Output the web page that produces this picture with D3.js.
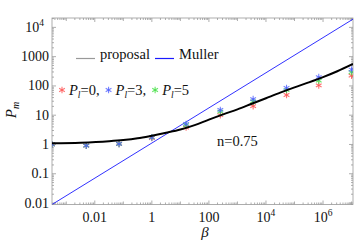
<!DOCTYPE html>
<html><head><meta charset="utf-8">
<script src="https://cdn.jsdelivr.net/npm/d3@7"></script>
<style>body{margin:0;background:#fff}svg{display:block}</style>
</head><body><svg id="c" width="356" height="245"></svg>
<script>
// data (log10 values)
const curveLogBeta = [-3.5,-2.5,-1.5,-1,-0.5,0,0.5,1,1.5,2,2.5,3,3.5,4,4.5,5,5.5,6,6.5,7.05];
const curveLogP    = [0.04,0.06,0.11,0.15,0.21,0.3,0.4,0.51,0.66,0.85,1.03,1.2,1.39,1.58,1.77,1.95,2.12,2.3,2.5,2.75];
const mullerLogBeta = [-3.5, 7.05];
const mullerLogP    = [-2.05, 4.28];
const starLogBeta = [-3.5,-2.3,-1.15,0.0,1.2,2.4,3.55,4.72,5.85,7.0];
const seriesP0 = [0.0,-0.04,0.02,0.22,0.58,1.0,1.31,1.69,2.02,2.35];
const seriesP5 = [0.0,-0.04,0.02,0.24,0.66,1.12,1.47,1.86,2.18,2.47];
const seriesP3 = [0.0,-0.04,0.02,0.24,0.70,1.18,1.55,1.93,2.30,2.56];
const xTickLabels = [{v:-2,t:"0.01"},{v:0,t:"1"},{v:2,t:"100"},{v:4,t:"10",s:"4"},{v:6,t:"10",s:"6"}];
const yTickLabels = [{v:-2,t:"0.01"},{v:-1,t:"0.1"},{v:0,t:"1"},{v:1,t:"10"},{v:2,t:"100"},{v:3,t:"1000"},{v:4,t:"10",s:"4"}];
const legendSeries = [{c:"#ff5050",t:"0,"},{c:"#5060ff",t:"3,"},{c:"#40e040",t:"5"}];

const FF="Liberation Serif";
const L=52,R=353,T=18,B=204.5;
const x=d3.scaleLog().domain([Math.pow(10,-3.5),Math.pow(10,7.05)]).range([L,R]);
const y=d3.scaleLog().domain([Math.pow(10,-2.05),Math.pow(10,4.32)]).range([B,T]);
const svg=d3.select("#c");
const P=v=>Math.pow(10,v);
const txt=(g)=>g.append("text").attr("font-family",FF).attr("fill","#111");

svg.append("defs").append("clipPath").attr("id","cl").append("rect").attr("x",L).attr("y",T).attr("width",R-L).attr("height",B-T);

// ticks
const tickG=svg.append("g").attr("stroke","#999").attr("stroke-width",0.8);
const xl=new Set(xTickLabels.map(d=>d.v));
for(let k=-4;k<=7;k++){for(let m=1;m<10;m++){const v=m*Math.pow(10,k);if(v<x.domain()[0]||v>x.domain()[1])continue;
 const len=m===1?(xl.has(k)?4:3):2;const px=x(v);
 tickG.append("line").attr("x1",px).attr("x2",px).attr("y1",B).attr("y2",B-len);
 tickG.append("line").attr("x1",px).attr("x2",px).attr("y1",T).attr("y2",T+len);}}
for(let k=-3;k<=4;k++){for(let m=1;m<10;m++){const v=m*Math.pow(10,k);if(v<y.domain()[0]||v>y.domain()[1])continue;
 const len=m===1?4:2;const py=y(v);
 tickG.append("line").attr("y1",py).attr("y2",py).attr("x1",L).attr("x2",L+len);
 tickG.append("line").attr("y1",py).attr("y2",py).attr("x1",R).attr("x2",R-len);}}
svg.append("rect").attr("x",L).attr("y",T).attr("width",R-L).attr("height",B-T).attr("fill","none").attr("stroke","#999").attr("stroke-width",0.8);

// tick labels
xTickLabels.forEach(d=>{const t=txt(svg).attr("x",x(P(d.v))).attr("y",B+17).attr("text-anchor","middle").attr("font-size",14).text(d.t);
 if(d.s)t.append("tspan").attr("dy",-6).attr("font-size",9.5).text(d.s);});
yTickLabels.forEach(d=>{const t=txt(svg).attr("x",49).attr("y",y(P(d.v))+4.5).attr("text-anchor","end").attr("font-size",14).text(d.t);
 if(d.s){t.attr("x",49-5);t.append("tspan").attr("dy",-6).attr("font-size",9.5).text(d.s);}});

// axis titles
txt(svg).attr("x",205).attr("y",237).attr("text-anchor","middle").attr("font-size",15).attr("font-style","italic").text("β");
const yt=txt(svg).attr("transform","translate(16,110) rotate(-90)").attr("text-anchor","middle").attr("font-size",15).attr("font-style","italic").text("P");
yt.append("tspan").attr("font-size",10).attr("dy",3).text("m");

const plot=svg.append("g").attr("clip-path","url(#cl)");
// Muller
plot.append("path").datum(mullerLogBeta.map((b,i)=>[b,mullerLogP[i]]))
 .attr("d",d3.line().x(d=>x(P(d[0]))).y(d=>y(P(d[1])))).attr("fill","none").attr("stroke","#1a1aff").attr("stroke-width",0.9);
// stars
function star(g,cx,cy,col){const r=3.3;[0,60,120].forEach(a=>{const rad=a*Math.PI/180;
 g.append("line").attr("x1",cx-r*Math.sin(rad)).attr("y1",cy-r*Math.cos(rad)).attr("x2",cx+r*Math.sin(rad)).attr("y2",cy+r*Math.cos(rad)).attr("stroke",col).attr("stroke-width",1.1).attr("stroke-opacity",0.8);});}
const sg=plot.append("g");
[[seriesP0,"#ff5050"],[seriesP5,"#40e040"],[seriesP3,"#5060ff"]].forEach(([s,c])=>{
 s.forEach((v,i)=>star(sg,x(P(starLogBeta[i])),y(P(v)),c));});
// proposal
plot.append("path").datum(curveLogBeta.map((b,i)=>[b,curveLogP[i]]))
 .attr("d",d3.line().curve(d3.curveMonotoneX).x(d=>x(P(d[0]))).y(d=>y(P(d[1])))).attr("fill","none").attr("stroke","#000").attr("stroke-width",2);

// legend
svg.append("line").attr("x1",76).attr("x2",95).attr("y1",58.5).attr("y2",58.5).attr("stroke","#999").attr("stroke-width",1.2);
txt(svg).attr("x",100).attr("y",59).attr("font-size",14.5).text("proposal");
svg.append("line").attr("x1",155).attr("x2",174).attr("y1",58.5).attr("y2",58.5).attr("stroke","#1a1aff").attr("stroke-width",1.2);
txt(svg).attr("x",179).attr("y",59).attr("font-size",14.5).text("Muller");
let lx=62;
legendSeries.forEach(d=>{star(svg,lx,90,d.c);
 const t=txt(svg).attr("x",lx+7).attr("y",95).attr("font-size",14.5);
 t.append("tspan").attr("font-style","italic").text("P");
 t.append("tspan").attr("font-style","italic").attr("font-size",9.5).attr("dy",3).text("l");
 t.append("tspan").attr("dy",-3).text("="+d.t);
 lx=lx+7+t.node().getComputedTextLength()+9;});
txt(svg).attr("x",217).attr("y",146).attr("font-size",14.5).text("n=0.75");
</script></body></html>
